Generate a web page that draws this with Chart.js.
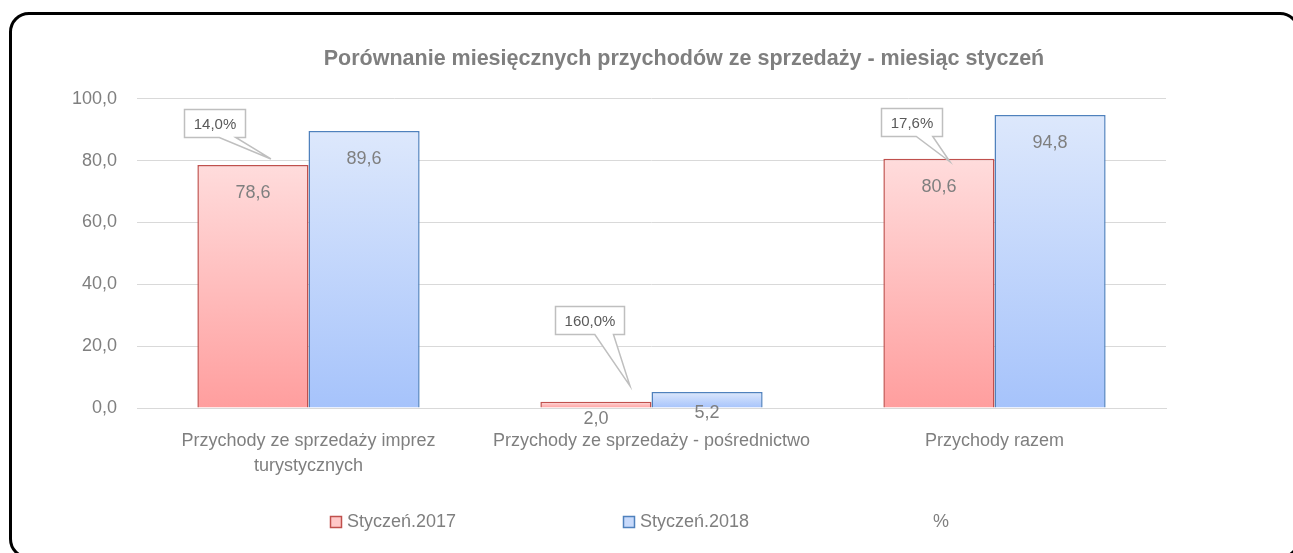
<!DOCTYPE html>
<html>
<head>
<meta charset="utf-8">
<script src="https://cdn.jsdelivr.net/npm/chart.js@4/dist/chart.umd.min.js"></script>
<style>
  html, body { margin: 0; padding: 0; background: #fff; overflow: hidden; }
  #wrap { position: relative; width: 1293px; height: 553px; overflow: hidden; }
  #frame { position: absolute; left: 9px; top: 12px; width: 1291px; height: 547px; border: 3px solid #000; border-radius: 20px; box-sizing: border-box; }
  canvas { position: absolute; left: 0; top: 0; }
</style>
</head>
<body>
<div id="wrap">
  <div id="frame"></div>
  <canvas id="chart" width="1293" height="553"></canvas>
</div>
<script>
var categories = [["Przychody ze sprzedaży imprez", "turystycznych"], "Przychody ze sprzedaży - pośrednictwo", "Przychody razem"];
var seriesNames = ["Styczeń.2017", "Styczeń.2018", "%"];
var values2017 = [78.6, 2.0, 80.6];
var values2018 = [89.6, 5.2, 94.8];
var percentChange = [14.0, 160.0, 17.6];
var yTicks = [0, 20, 40, 60, 80, 100];

var sans = "'Liberation Sans', Arial, sans-serif";
var textGrey = '#7f7f7f';

function comma(v, d) {
  return v.toFixed(d).replace('.', ',');
}

// per-bar vertical gradient, light at the top, darker at the base
function barGradient(top, bottom) {
  return function (c) {
    var chart = c.chart;
    if (!chart.chartArea || c.type !== 'data' || !chart.scales.y) return bottom;
    var y = chart.scales.y;
    var y0 = y.getPixelForValue(c.raw);
    var y1 = y.getPixelForValue(0);
    if (y1 - y0 < 1) return bottom;
    var g = chart.ctx.createLinearGradient(0, y0, 0, y1);
    g.addColorStop(0, top);
    g.addColorStop(1, bottom);
    return g;
  };
}

var valueLabels = {
  id: 'valueLabels',
  afterDatasetsDraw: function (chart) {
    var ctx = chart.ctx;
    ctx.save();
    ctx.font = '18px ' + sans;
    ctx.fillStyle = textGrey;
    ctx.textAlign = 'center';
    ctx.textBaseline = 'middle';
    [0, 1].forEach(function (di) {
      var meta = chart.getDatasetMeta(di);
      meta.data.forEach(function (bar, i) {
        var h = bar.base - bar.y;
        var off = Math.min(28, 15 + h * 0.4);
        ctx.fillText(comma(chart.data.datasets[di].data[i], 1), bar.x, bar.y + off);
      });
    });
    ctx.restore();
  }
};

var callouts = {
  id: 'callouts',
  afterDatasetsDraw: function (chart, args, opts) {
    var ctx = chart.ctx;
    var meta = chart.getDatasetMeta(0);
    var pct = chart.data.datasets[2].data;
    ctx.save();
    ctx.font = '15px ' + sans;
    meta.data.forEach(function (bar, i) {
      var text = comma(pct[i], 1) + '%';
      var w = ctx.measureText(text).width + 18;
      var h = 28;
      var cx = bar.x + opts.box[i][0];
      var cy = bar.y + opts.box[i][1];
      var tx = bar.x + opts.tip[i][0];
      var ty = bar.y + opts.tip[i][1];
      var l = Math.round(cx - w / 2) + 0.5, t = Math.round(cy - h / 2) + 0.5;
      var r = l + Math.round(w), b = t + h;
      ctx.beginPath();
      ctx.moveTo(l, t);
      ctx.lineTo(r, t);
      ctx.lineTo(r, b);
      ctx.lineTo(l + (r - l) * 0.84, b);
      ctx.lineTo(tx, ty);
      ctx.lineTo(l + (r - l) * 0.57, b);
      ctx.lineTo(l, b);
      ctx.closePath();
      ctx.fillStyle = '#ffffff';
      ctx.fill();
      ctx.lineWidth = 1.5;
      ctx.strokeStyle = '#bfbfbf';
      ctx.stroke();
      ctx.fillStyle = '#595959';
      ctx.textAlign = 'center';
      ctx.textBaseline = 'middle';
      ctx.fillText(text, (l + r) / 2, (t + b) / 2 + 1);
    });
    ctx.restore();
  }
};

var spreadLegend = {
  id: 'spreadLegend',
  afterDraw: function (chart, args, opts) {
    var ctx = chart.ctx;
    ctx.save();
    ctx.font = '18px ' + sans;
    ctx.textAlign = 'left';
    ctx.textBaseline = 'middle';
    chart.data.datasets.forEach(function (ds, i) {
      var x = chart.chartArea.left + opts.start + i * opts.step;
      var y = opts.y;
      if (ds.swatch) {
        ctx.fillStyle = ds.swatch;
        ctx.fillRect(x, y - 6, 12, 12);
        ctx.lineWidth = 1.5;
        ctx.strokeStyle = ds.borderColor;
        ctx.strokeRect(x + 0.5, y - 5.5, 11, 11);
      }
      ctx.fillStyle = textGrey;
      ctx.fillText(ds.label, x + 17, y);
    });
    ctx.restore();
  }
};

new Chart(document.getElementById('chart'), {
  type: 'bar',
  data: {
    labels: categories,
    datasets: [
      {
        label: seriesNames[0],
        data: values2017,
        backgroundColor: barGradient('#ffdcdc', '#ff9e9e'),
        borderColor: '#c0504d',
        borderWidth: 1.5,
        swatch: '#ffc8c8',
        yAxisID: 'y'
      },
      {
        label: seriesNames[1],
        data: values2018,
        backgroundColor: barGradient('#dde8fc', '#a6c3fb'),
        borderColor: '#4f81bd',
        borderWidth: 1.5,
        swatch: '#c8dafb',
        yAxisID: 'y'
      },
      {
        type: 'line',
        label: seriesNames[2],
        data: percentChange,
        showLine: false,
        pointRadius: 0,
        pointHitRadius: 0,
        borderColor: 'transparent',
        yAxisID: 'yRight'
      }
    ]
  },
  options: {
    responsive: false,
    animation: false,
    events: [],
    datasets: { bar: { categoryPercentage: 0.648, barPercentage: 1 } },
    layout: { padding: { left: 55, right: -20, top: 0, bottom: 0 } },
    scales: {
      x: {
        grid: { display: false },
        border: { color: '#d9d9d9', width: 1 },
        ticks: {
          color: textGrey,
          font: { family: sans, size: 18, lineHeight: 1.4 },
          padding: 12,
          maxRotation: 0,
          autoSkip: false
        },
        afterFit: function (s) { s.height = 145; }
      },
      y: {
        min: yTicks[0],
        max: yTicks[yTicks.length - 1],
        grid: { color: '#d9d9d9', drawTicks: false },
        border: { display: false },
        ticks: {
          stepSize: yTicks[1] - yTicks[0],
          color: textGrey,
          font: { family: sans, size: 18 },
          padding: 20,
          callback: function (v) { return comma(v, 1); }
        },
        afterFit: function (s) { s.width = 82; }
      },
      yRight: {
        position: 'right',
        min: 0,
        max: 200,
        grid: { display: false },
        border: { display: false },
        ticks: { display: false },
        afterFit: function (s) { s.width = 147; }
      }
    },
    plugins: {
      legend: { display: false },
      tooltip: { enabled: false },
      title: {
        display: true,
        text: 'Porównanie miesięcznych przychodów ze sprzedaży - miesiąc styczeń',
        color: textGrey,
        font: { family: sans, size: 21.5, weight: 'bold' },
        padding: { top: 46, bottom: 27 }
      },
      callouts: {
        box: [[-39, -42], [-6, -82], [-28, -37]],
        tip: [[18, -6], [34, -16], [11, 3]]
      },
      spreadLegend: { start: 193, step: 293, y: 522 }
    }
  },
  plugins: [valueLabels, callouts, spreadLegend]
});
</script>
</body>
</html>
